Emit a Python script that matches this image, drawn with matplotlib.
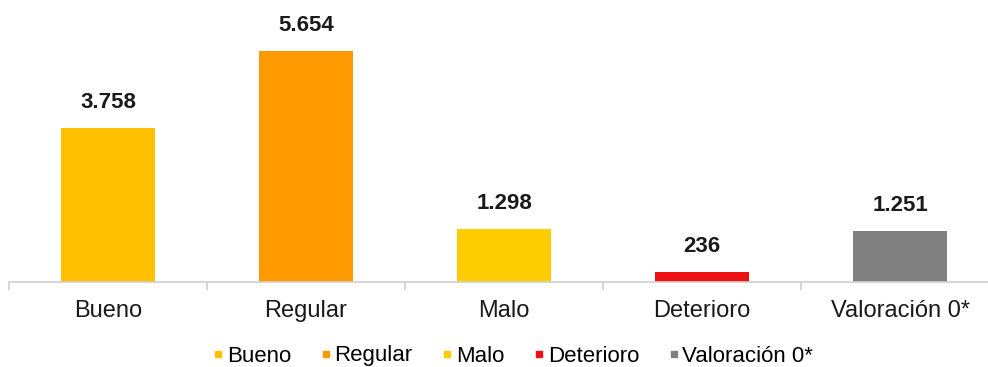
import matplotlib
matplotlib.use("Agg")
import matplotlib.pyplot as plt
from matplotlib.lines import Line2D

categories = ["Bueno", "Regular", "Malo", "Deterioro", "Valoración 0*"]
values = [3758, 5654, 1298, 236, 1251]
labels = ["3.758", "5.654", "1.298", "236", "1.251"]
colors = ["#FFC000", "#FF9900", "#FFCC00", "#EE1111", "#808080"]

plt.rcParams["font.family"] = ["Liberation Sans", "DejaVu Sans"]

fig = plt.figure(figsize=(9.88, 3.67), dpi=100)
ax = fig.add_axes([9 / 988, 85 / 367, 990 / 988, 282 / 367])

x = list(range(len(categories)))
ax.bar(x, values, width=0.47, color=colors)
for xi, v, lab in zip(x, values, labels):
    ax.annotate(lab, (xi, v), xytext=(0, 11), textcoords="offset points",
                ha="center", va="bottom", fontsize=16, fontweight="bold",
                color="#1a1a1a")

ax.set_xlim(-0.5, len(categories) - 0.5)
ax.set_ylim(0, 6902)
for s in ["top", "right", "left"]:
    ax.spines[s].set_visible(False)
ax.spines["bottom"].set_color("#D0D0D0")
ax.spines["bottom"].set_linewidth(1.2)
ax.set_yticks([])

ax.set_xticks([i - 0.5 for i in range(len(categories) + 1)])
ax.set_xticklabels([])
ax.tick_params(axis="x", which="major", length=6, color="#D0D0D0", width=1.2)
ax.set_xticks(x, minor=True)
ax.set_xticklabels(categories, minor=True, fontsize=17, color="#1a1a1a")
ax.tick_params(axis="x", which="minor", length=0, pad=13)

handles = [Line2D([], [], marker="s", linestyle="none", markersize=5,
                  color=c, label=cat) for c, cat in zip(colors, categories)]
fig.legend(handles=handles, loc="center", bbox_to_anchor=(0.518, 11 / 367),
           ncol=5, frameon=False, fontsize=16, handletextpad=0.05,
           columnspacing=1.2, handlelength=0.7)

fig.savefig("out.png", dpi=100)
